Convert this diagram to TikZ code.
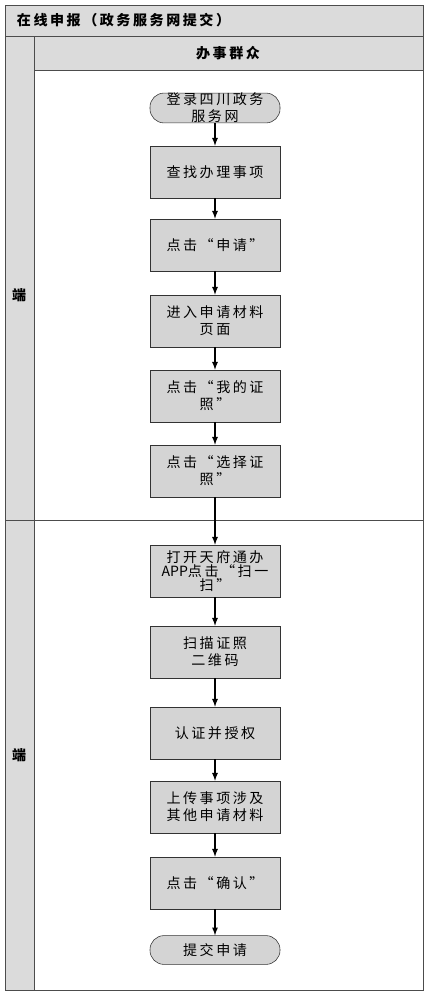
\documentclass[tikz,border=0pt]{standalone}
\usepackage{fontspec}
\newfontfamily\cjk[LetterSpace=18]{Noto Sans CJK SC}
\newfontfamily\latin{Noto Sans CJK SC}
\usetikzlibrary{arrows,positioning}
\tikzset{%
	block/.style = {draw=black!80, fill=black!17, rectangle, minimum height=1.3cm, minimum width=3.25cm, align=center, font=\cjk, inner sep=1pt},
	term/.style  = {draw=black!80, fill=black!17, rectangle, rounded corners=3.5mm, minimum height=0.72cm, minimum width=3.25cm, align=center, font=\cjk, inner sep=0pt},
	band/.style  = {draw=black!70, fill=black!14}, % lane header
	label/.style = {font=\cjk\bfseries}, % lane text
	arrow/.style = {line width=0.9pt,-latex},
}

\begin{document}
\begin{tikzpicture}[node distance=1.9cm,auto]
	\useasboundingbox (0,0) rectangle (10.775,-25);
	% lanes
	\draw [band] (0.125,-0.125) rectangle (10.575,-0.9);
	\draw [band] (0.125,-0.9) rectangle (0.85,-24.75);
	\draw [band] (0.85,-0.9) rectangle (10.575,-1.75);
	\draw [draw=black!70] (0.125,-0.125) rectangle (10.575,-24.75);
	\draw [draw=black!70] (0.125,-13) -- (10.575,-13);
	\node [label,anchor=west] (title) at (0.3,-0.5) {在线申报（政务服务网提交）};
	\node [label] (who) at (5.7,-1.325) {办事群众};
	\node [label] (pc) at (0.48,-7.375) {端};
	\node [label] (app) at (0.48,-18.875) {端};
	
	% steps
	\node [term] (login) at (5.375,-2.7) {登录四川政务\\服务网};
	\node [block] (find) [below of=login,node distance=1.6cm] {查找办理事项};
	\node [block] (apply) [below of=find,node distance=1.825cm] {点击“申请”};
	\node [block] (page) [below of=apply] {进入申请材料\\页面};
	\node [block] (mine) [below of=page,node distance=1.875cm] {点击“我的证\\照”};
	\node [block] (pick) [below of=mine,node distance=1.875cm] {点击“选择证\\照”};
	\node [block] (open) [below of=pick,node distance=2.5cm] {打开天府通办\\[-2pt]{\latin APP}点击“扫一\\[-2pt]扫”};
	\node [block] (scan) [below of=open,node distance=2.025cm] {扫描证照\\二维码};
	\node [block] (auth) [below of=scan,node distance=2.025cm] {认证并授权};
	\node [block] (upload) [below of=auth,node distance=1.85cm] {上传事项涉及\\其他申请材料};
	\node [block] (ok) [below of=upload] {点击“确认”};
	\node [term] (submit) [below of=ok,node distance=1.675cm] {提交申请};
	
	\draw [arrow] (login) -- (find);
	\draw [arrow] (find) -- (apply);
	\draw [arrow] (apply) -- (page);
	\draw [arrow] (page) -- (mine);
	\draw [arrow] (mine) -- (pick);
	\draw [arrow] (pick) -- (open);
	\draw [arrow] (open) -- (scan);
	\draw [arrow] (scan) -- (auth);
	\draw [arrow] (auth) -- (upload);
	\draw [arrow] (upload) -- (ok);
	\draw [arrow] (ok) -- (submit);
\end{tikzpicture}
\end{document}
